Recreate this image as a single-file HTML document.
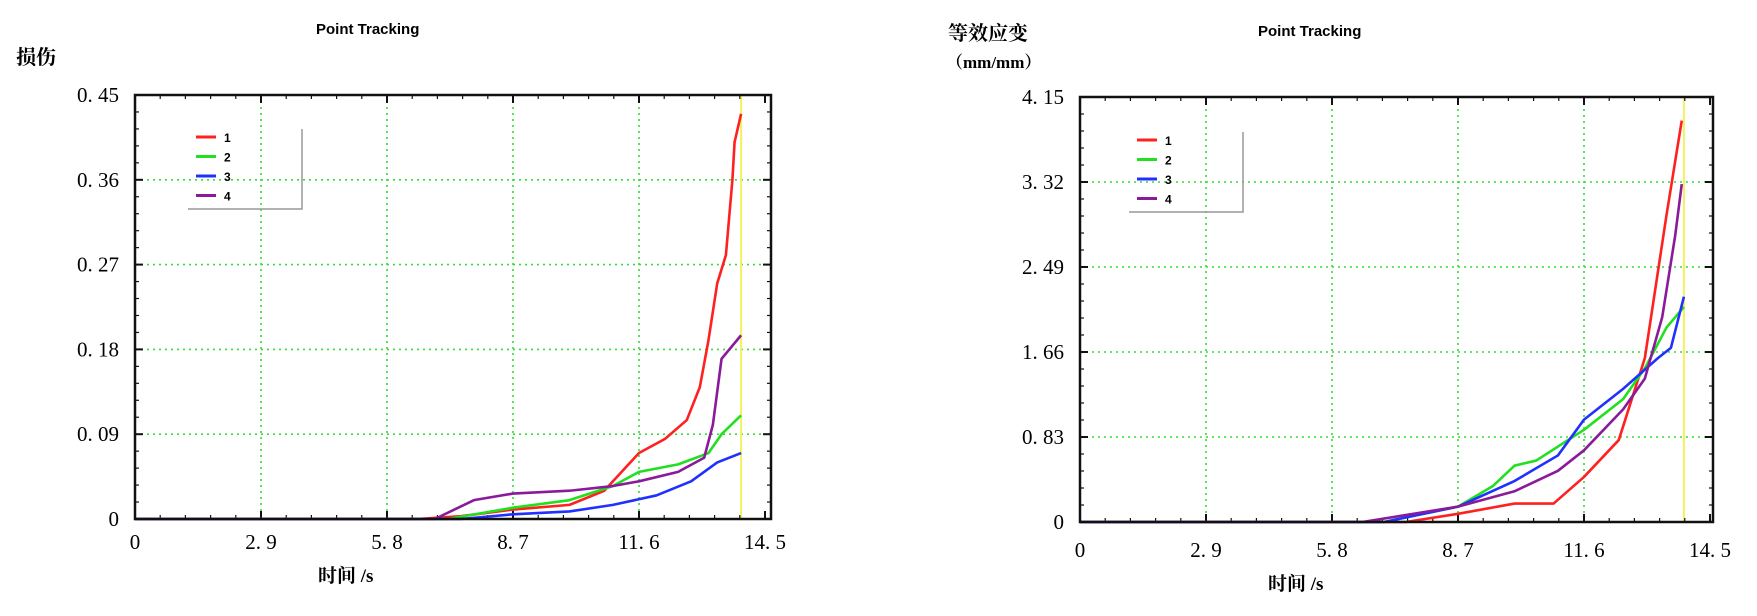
<!DOCTYPE html>
<html><head><meta charset="utf-8"><style>
body{margin:0;background:#fff;}
svg{display:block;}
text{font-family:"Liberation Serif","Noto Serif CJK SC",serif;}
.t{font-family:"Liberation Sans",sans-serif;font-weight:bold;font-size:15px;}
.lg{font-family:"Liberation Sans",sans-serif;font-weight:bold;font-size:12px;}
</style></head><body>
<svg id="s" width="1757" height="616" xmlns="http://www.w3.org/2000/svg">
<text class="t" x="316" y="34">Point Tracking</text>
<text class="t" x="1258" y="36">Point Tracking</text>
<text x="16" y="64" font-size="20" font-weight="bold" font-family="'Noto Serif CJK SC',serif">损伤</text>
<text x="948" y="40" font-size="20" font-weight="bold" font-family="'Noto Serif CJK SC',serif">等效应变</text>
<text x="946" y="68" font-size="17" font-weight="bold" font-family="'Noto Serif CJK SC',serif">（mm/mm）</text>
<text x="318" y="582" font-size="19" font-weight="bold" font-family="'Noto Serif CJK SC',serif">时间 /s</text>
<text x="1268" y="590" font-size="19" font-weight="bold" font-family="'Noto Serif CJK SC',serif">时间 /s</text>
</svg>
<script>
const xTicks=["0","2.9","5.8","8.7","11.6","14.5"];
const xTickVals=[0,2.9,5.8,8.7,11.6,14.5];
const leftYTicks=["0","0.09","0.18","0.27","0.36","0.45"];
const leftYVals=[0,0.09,0.18,0.27,0.36,0.45];
const rightYTicks=["0","0.83","1.66","2.49","3.32","4.15"];
const rightYVals=[0,0.83,1.66,2.49,3.32,4.15];
const seriesNames=["1","2","3","4"];
const L1t=[0,6.5,7.5,8.7,10,10.8,11.3,11.6,12.2,12.7,13.0,13.2,13.4,13.6,13.75,13.8,13.95];
const L1v=[0,0,0.003,0.01,0.015,0.03,0.055,0.07,0.085,0.105,0.14,0.19,0.25,0.28,0.36,0.40,0.43];
const L2t=[0,7.2,8.7,10,11,11.6,12.5,13.2,13.5,13.95];
const L2v=[0,0,0.012,0.02,0.035,0.05,0.058,0.07,0.09,0.11];
const L3t=[0,7.5,8.7,10,11,12,12.8,13.4,13.95];
const L3v=[0,0,0.005,0.008,0.015,0.025,0.04,0.06,0.07];
const L4t=[0,6.9,7.8,8.7,10,11,11.6,12.5,13.1,13.3,13.5,13.95];
const L4v=[0,0,0.02,0.027,0.03,0.035,0.04,0.05,0.065,0.1,0.17,0.195];
const R1t=[0,7.5,8.7,10,10.9,11.6,12.4,13.0,13.5,13.85];
const R1v=[0,0,0.08,0.18,0.18,0.44,0.8,1.6,3.0,3.92];
const R2t=[0,7,8.7,9.5,10,10.5,11.6,12.5,13,13.5,13.9];
const R2v=[0,0,0.15,0.35,0.55,0.6,0.9,1.2,1.5,1.9,2.1];
const R3t=[0,7,8.7,10,11,11.6,12.5,13.3,13.6,13.9];
const R3v=[0,0,0.15,0.4,0.65,1.0,1.3,1.6,1.7,2.2];
const R4t=[0,6.5,8.7,10,11,11.6,12.5,13,13.4,13.7,13.85];
const R4v=[0,0,0.15,0.3,0.5,0.7,1.1,1.4,2.0,2.8,3.3];
const colors=["#ff2020","#20e020","#2030ff","#8a1a9a"];
const NS="http://www.w3.org/2000/svg";
const svg=document.getElementById('s');
function mk(tag,attrs,parent){const e=document.createElementNS(NS,tag);for(const k in attrs)e.setAttribute(k,attrs[k]);(parent||svg).appendChild(e);return e;}
function chart(p){
  const g=mk('g',{});
  
  
  const X=v=>p.x0+(v/14.5)*(p.x1-p.x0);
  const Y=v=>p.y0-(v/p.ymax)*(p.y0-p.y1);
  xTickVals.slice(1,5).forEach(v=>{const l=mk('line',{x1:X(v),x2:X(v),y1:p.y1,y2:p.y0,stroke:'#33dd33','stroke-width':1.6,'stroke-dasharray':'2 4'},g);
    
    });
  p.yv.slice(1,5).forEach(v=>{const l=mk('line',{x1:p.x0,x2:p.fr,y1:Y(v),y2:Y(v),stroke:'#33dd33','stroke-width':1.6,'stroke-dasharray':'2 4'},g);
    
    });
  const yl=mk('line',{x1:X(p.mark),x2:X(p.mark),y1:p.y1,y2:p.y0,stroke:'#f5f060','stroke-width':2},g);
  
  
  for(let i=0;i<=25;i++){const x=X(i*0.58);const big=i%5==0;
    mk('line',{x1:x,x2:x,y1:p.y1,y2:p.y1+(big?8:4),stroke:'#111','stroke-width':big?2:1.2},g);
    mk('line',{x1:x,x2:x,y1:p.y0,y2:p.y0-(big?8:4),stroke:'#111','stroke-width':big?2:1.2},g);}
  for(let i=0;i<=25;i++){const y=Y(i*p.ymax/25);const big=i%5==0;
    mk('line',{x1:p.x0,x2:p.x0+(big?8:4),y1:y,y2:y,stroke:'#111','stroke-width':big?2:1.2},g);
    mk('line',{x1:p.fr,x2:p.fr-(big?8:4),y1:y,y2:y,stroke:'#111','stroke-width':big?2:1.2},g);}
  p.series.forEach((s,i)=>{const pl=mk('polyline',{points:s[0].map((t,j)=>X(t)+','+Y(s[1][j])).join(' '),fill:'none',stroke:colors[i],'stroke-width':2.6,'stroke-linejoin':'round'},g);
    
    });
  const fr=mk('rect',{x:p.x0,y:p.y1,width:p.fr-p.x0,height:p.y0-p.y1,fill:'none',stroke:'#111','stroke-width':2.5},g);
  
  
  xTicks.forEach((t,i)=>{const tx=mk('text',{x:X(xTickVals[i]),y:p.xly,'text-anchor':'middle','font-size':21},g);tx.textContent=t.replace('.','. ');
    
    });
  p.yt.forEach((t,i)=>{const tx=mk('text',{x:p.x0-16,y:Y(p.yv[i])+7,'text-anchor':'end','font-size':21},g);tx.textContent=t.replace('.','. ');
    
    });
  const lg=mk('g',{},g);
  
  
  mk('polyline',{points:`${p.lx+106},${p.ly-8} ${p.lx+106},${p.ly+72} ${p.lx-8},${p.ly+72}`,fill:'none',stroke:'#999','stroke-width':1.5},lg);
  seriesNames.forEach((n,i)=>{const yy=p.ly+i*19.5;
    const ln=mk('line',{x1:p.lx,x2:p.lx+20,y1:yy,y2:yy,stroke:colors[i],'stroke-width':3},lg);
    
    
    const tx=mk('text',{x:p.lx+28,y:yy+5,class:'lg'},lg);tx.textContent=n;
    
    });
}
chart({name:'left-chart-damage',x0:135,x1:765,fr:771,y0:519,y1:95,ymax:0.45,yt:leftYTicks,yv:leftYVals,xly:549,mark:13.95,lx:196,ly:137,
  series:[[L1t,L1v],[L2t,L2v],[L3t,L3v],[L4t,L4v]]});
chart({name:'right-chart-strain',x0:1080,x1:1710,fr:1713,y0:522,y1:97,ymax:4.15,yt:rightYTicks,yv:rightYVals,xly:557,mark:13.9,lx:1137,ly:140,
  series:[[R1t,R1v],[R2t,R2v],[R3t,R3v],[R4t,R4v]]});
</script>
</body></html>
